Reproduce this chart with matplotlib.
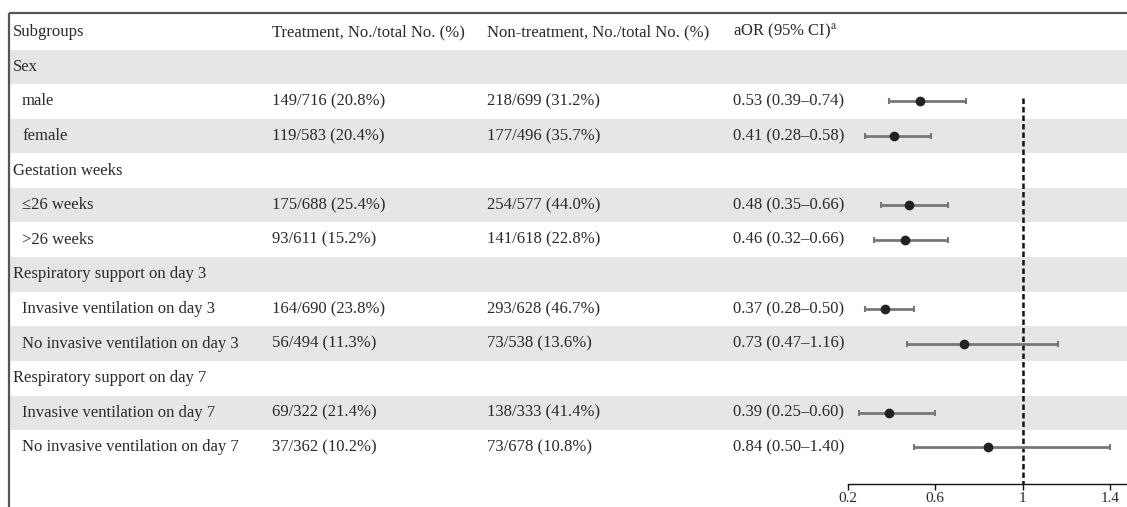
import matplotlib
matplotlib.use("Agg")
import matplotlib.pyplot as plt
import matplotlib.transforms as mtransforms

plt.rcParams['font.family'] = ['Liberation Serif', 'DejaVu Serif']
plt.rcParams['mathtext.fontset'] = 'stix'

# ---------------- data ----------------
headers = ["Subgroups", "Treatment, No./total No. (%)", "Non-treatment, No./total No. (%)", "aOR (95% CI)"]
subgroups = ["Sex", "male", "female", "Gestation weeks", "\u226426 weeks", ">26 weeks",
             "Respiratory support on day 3", "Invasive ventilation on day 3",
             "No invasive ventilation on day 3", "Respiratory support on day 7",
             "Invasive ventilation on day 7", "No invasive ventilation on day 7"]
is_group = [True, False, False, True, False, False, True, False, False, True, False, False]
treatment = ["", "149/716 (20.8%)", "119/583 (20.4%)", "", "175/688 (25.4%)", "93/611 (15.2%)",
             "", "164/690 (23.8%)", "56/494 (11.3%)", "", "69/322 (21.4%)", "37/362 (10.2%)"]
non_treatment = ["", "218/699 (31.2%)", "177/496 (35.7%)", "", "254/577 (44.0%)", "141/618 (22.8%)",
                 "", "293/628 (46.7%)", "73/538 (13.6%)", "", "138/333 (41.4%)", "73/678 (10.8%)"]
aor = [None, 0.53, 0.41, None, 0.48, 0.46, None, 0.37, 0.73, None, 0.39, 0.84]
ci_low = [None, 0.39, 0.28, None, 0.35, 0.32, None, 0.28, 0.47, None, 0.25, 0.50]
ci_high = [None, 0.74, 0.58, None, 0.66, 0.66, None, 0.50, 1.16, None, 0.60, 1.40]
xticks = [0.2, 0.6, 1, 1.4]
xtick_labels = ["0.2", "0.6", "1", "1.4"]

# ---------------- layout ----------------
W, H = 1127, 507
fig = plt.figure(figsize=(W / 100, H / 100), dpi=100)
ax = fig.add_axes([0, 0, 1, 1])

row_h = 34.6
row1_center = 66.8
px_per_unit = 262 / 1.2
x_left = 0.2 - 848 / px_per_unit
x_right = 1.4 + (W - 1110) / px_per_unit
ax.set_xlim(x_left, x_right)
ax.set_ylim(1 + (H - row1_center) / row_h, 1 - row1_center / row_h)

def px2x(px):
    return x_left + px / px_per_unit

def py2y(py):
    return 1 + (py - row1_center) / row_h

n = len(subgroups)
band_color = "#e5e6e8"
for i in range(n):
    r = i + 1
    if i % 2 == 0:
        ax.axhspan(r - 0.5, r + 0.5, xmin=9 / W, xmax=1, color=band_color, lw=0, zorder=0)

# frame (top and left)
frame_c = "#555555"
ax.plot([px2x(8.5), x_right], [py2y(13.5), py2y(13.5)], color=frame_c, lw=1.6, zorder=3,
        solid_capstyle="butt")
ax.plot([px2x(8.5), px2x(8.5)], [py2y(13.5), py2y(H + 5)], color=frame_c, lw=1.6, zorder=3,
        solid_capstyle="butt")

# table text
trans = mtransforms.blended_transform_factory(ax.transAxes, ax.transData)
fs = 12
tc = "#2a2a2a"
col_x = [13 / W, 272 / W, 487 / W, 733 / W]
for cx, h in zip(col_x, headers):
    t = h + ("$^{\\mathrm{a}}$" if h.startswith("aOR") else "")
    ax.text(cx, 0, t, transform=trans, fontsize=fs, va="center", ha="left", color=tc)

for i in range(n):
    r = i + 1
    x0 = col_x[0] if is_group[i] else 22 / W
    ax.text(x0, r, subgroups[i], transform=trans, fontsize=fs, va="center", ha="left", color=tc)
    if treatment[i]:
        ax.text(col_x[1], r, treatment[i], transform=trans, fontsize=fs, va="center", ha="left", color=tc)
        ax.text(col_x[2], r, non_treatment[i], transform=trans, fontsize=fs, va="center", ha="left", color=tc)
    if aor[i] is not None:
        label = f"{aor[i]:.2f} ({ci_low[i]:.2f}\u2013{ci_high[i]:.2f})"
        ax.text(col_x[3], r, label, transform=trans, fontsize=fs, va="center", ha="left", color=tc)

# forest plot marks
axis_y = py2y(484)
ax.plot([1, 1], [1.9, axis_y], color="#111111", lw=1.8, ls=(0, (2.2, 1.2)), zorder=4)
for i in range(n):
    if aor[i] is None:
        continue
    r = i + 1
    ax.errorbar(aor[i], r, xerr=[[aor[i] - ci_low[i]], [ci_high[i] - aor[i]]],
                fmt="o", color="#222222", ms=6, ecolor="#777777", elinewidth=2,
                capsize=2.5, capthick=1.5, zorder=5)

# x axis
for s in ["top", "right", "left"]:
    ax.spines[s].set_visible(False)
ax.spines["bottom"].set_position(("data", axis_y))
ax.spines["bottom"].set_bounds(0.2, x_right)
ax.spines["bottom"].set_color("#111111")
ax.spines["bottom"].set_linewidth(1.0)
ax.set_xticks(xticks)
ax.set_xticklabels(xtick_labels, fontsize=11, color=tc)
ax.tick_params(axis="x", direction="out", length=4, width=1, color="#111111", pad=2)
ax.set_yticks([])

fig.savefig("out.png", dpi=100)
